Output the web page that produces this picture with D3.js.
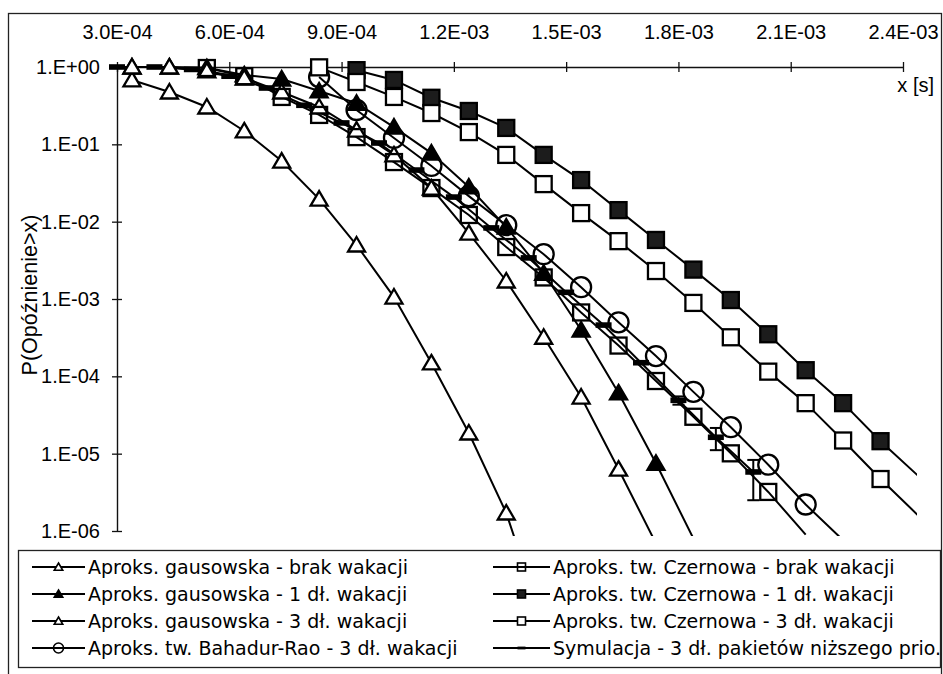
<!DOCTYPE html>
<html><head><meta charset="utf-8">
<script src="https://cdnjs.cloudflare.com/ajax/libs/d3/7.8.5/d3.min.js"></script>
<style>body{margin:0;background:#fff}svg{display:block}</style>
</head><body>
<svg id="chart" width="943" height="674"></svg>
<script>
// ---------- data ----------
const xTickValues = [0.0003, 0.0006, 0.0009, 0.0012, 0.0015, 0.0018, 0.0021, 0.0024];
const xTickLabels = ["3.0E-04","6.0E-04","9.0E-04","1.2E-03","1.5E-03","1.8E-03","2.1E-03","2.4E-03"];
const yTickValues = [1, 1e-1, 1e-2, 1e-3, 1e-4, 1e-5, 1e-6];
const yTickLabels = ["1.E+00","1.E-01","1.E-02","1.E-03","1.E-04","1.E-05","1.E-06"];

// x grid of the approximations
const approxX = [0.00034,0.00044,0.00054,0.00064,0.00074,0.00084,0.00094,0.00104,0.00114,0.00124,0.00134,
                 0.00144,0.00154,0.00164,0.00174,0.00184,0.00194,0.00204,0.00214,0.00224,0.00234,0.00244];
// x grid of the simulation
const simX = [0.0003,0.0004,0.0005,0.0006,0.0007,0.0008,0.0009,0.0010,0.0011,0.0012,0.0013,0.0014,0.0015,
              0.0016,0.0017,0.0018,0.0019,0.0020];

const gaussNone = [0.68,0.475,0.304,0.149,0.0608,0.0196,4.99e-3,1.06e-3,1.49e-4,1.85e-5,1.71e-6,6e-8];
const gaussOne  = [1.0,1.0,0.98,0.79,0.70,0.49,0.34,0.167,0.077,0.0281,8.5e-3,2.15e-3,3.97e-4,6.1e-5,7.5e-6,8e-7];
const gaussThree= [1.0,1.0,0.89,0.72,0.475,0.304,0.153,0.073,0.0272,7.1e-3,1.71e-3,3.2e-4,5.4e-5,6.3e-6,6.9e-7];
const bahadurThreeStart = 5;
const bahadurThree = [0.74,0.278,0.121,0.0525,0.0214,9.0e-3,3.8e-3,1.42e-3,5.0e-4,1.83e-4,6.3e-5,2.2e-5,7.2e-6,2.2e-6,7.6e-7];
const czernNoneStart = 2;
const czernNone = [0.97,0.76,0.41,0.24,0.124,0.059,0.0272,0.0122,4.7e-3,1.9e-3,6.7e-4,2.5e-4,8.7e-5,3.0e-5,1.01e-5,3.2e-6,9e-7];
const czernOneStart = 6;
const czernOne = [0.91,0.68,0.40,0.27,0.163,0.073,0.0345,0.0141,5.8e-3,2.4e-3,9.7e-4,3.5e-4,1.2e-4,4.5e-5,1.45e-5,5.2e-6];
const czernThreeStart = 5;
const czernThree = [0.99,0.64,0.41,0.254,0.144,0.073,0.0306,0.0129,5.6e-3,2.3e-3,8.9e-4,3.2e-4,1.15e-4,4.5e-5,1.48e-5,4.7e-6,1.6e-6];
const simValues = [1,1,0.93,0.76,0.535,0.32,0.189,0.104,0.0465,0.0208,8.3e-3,3.4e-3,1.22e-3,4.6e-4,1.5e-4,4.9e-5,1.63e-5,5.8e-6];
const simErrLow  = [null,null,null,null,null,null,null,null,null,null,null,null,null,null,null,4.3e-5,1.11e-5,2.5e-6];
const simErrHigh = [null,null,null,null,null,null,null,null,null,null,null,null,null,null,null,5.5e-5,2.15e-5,8.3e-6];

const seriesNames = [
  "Aproks. gausowska - brak wakacji",
  "Aproks. gausowska - 1 dł. wakacji",
  "Aproks. gausowska - 3 dł. wakacji",
  "Aproks. tw. Bahadur-Rao - 3 dł. wakacji",
  "Aproks. tw. Czernowa - brak wakacji",
  "Aproks. tw. Czernowa - 1 dł. wakacji",
  "Aproks. tw. Czernowa - 3 dł. wakacji",
  "Symulacja - 3 dł. pakietów niższego prio."
];

function zip(xs, ys, start){ return ys.map((v,i)=>({x: xs[start+i], y: v})); }

const series = [
  {name: seriesNames[0], marker: "triOpen",  pts: zip(approxX, gaussNone, 0)},
  {name: seriesNames[1], marker: "triFill",  pts: zip(approxX, gaussOne, 0)},
  {name: seriesNames[2], marker: "triOpen",  pts: zip(approxX, gaussThree, 0)},
  {name: seriesNames[3], marker: "circle",   pts: zip(approxX, bahadurThree, bahadurThreeStart)},
  {name: seriesNames[4], marker: "sqNone",   pts: zip(approxX, czernNone, czernNoneStart)},
  {name: seriesNames[5], marker: "sqDark",   pts: zip(approxX, czernOne, czernOneStart)},
  {name: seriesNames[6], marker: "sqWhite",  pts: zip(approxX, czernThree, czernThreeStart)},
  {name: seriesNames[7], marker: "dash",     pts: zip(simX, simValues, 0)}
];

// ---------- drawing ----------
const svg = d3.select("#chart");
const axisFont = "'Liberation Sans', Arial, sans-serif";
const legendFont = "'DejaVu Sans', Verdana, sans-serif";

svg.append("rect").attr("x",0).attr("y",0).attr("width",943).attr("height",674).attr("fill","#fff");
// outer chart border
svg.append("rect").attr("x",8.5).attr("y",13.5).attr("width",933).attr("height",665)
  .attr("fill","none").attr("stroke","#222").attr("stroke-width",1.3);

const x = d3.scaleLinear().domain([0.0003, 0.0024]).range([117, 903]);
const y = d3.scaleLog().domain([1, 1e-6]).range([67, 531]);

// x axis (on top, at y = 1)
const xAxis = d3.axisTop(x).tickValues(xTickValues)
  .tickFormat((d,i)=>xTickLabels[i]).tickSizeInner(0).tickSizeOuter(0).tickPadding(28);
const gx = svg.append("g").attr("transform",`translate(0,${y(1)})`).call(xAxis);
gx.select(".domain").attr("stroke","#111").attr("stroke-width",1.4);
gx.selectAll(".tick line").attr("y1",-5).attr("y2",5).attr("stroke","#111").attr("stroke-width",1.3);
gx.selectAll(".tick text").attr("font-family",axisFont).attr("font-size",20).attr("fill","#000");

// y axis
const yAxis = d3.axisLeft(y).tickValues(yTickValues)
  .tickFormat((d,i)=>yTickLabels[i]).tickSizeInner(0).tickSizeOuter(0).tickPadding(17);
const gy = svg.append("g").attr("transform",`translate(${x(0.0003)},0)`).call(yAxis);
gy.select(".domain").attr("stroke","#111").attr("stroke-width",1.4);
gy.selectAll(".tick line").attr("x1",-5).attr("x2",5).attr("stroke","#111").attr("stroke-width",1.3);
gy.selectAll(".tick text").attr("font-family",axisFont).attr("font-size",20).attr("fill","#000");

// axis titles
svg.append("text").attr("x",934).attr("y",92).attr("text-anchor","end")
  .attr("font-family",axisFont).attr("font-size",20).text("x [s]");
svg.append("text").attr("transform","translate(37,295) rotate(-90)").attr("text-anchor","middle")
  .attr("font-family",axisFont).attr("font-size",21.5).text("P(Opóźnienie>x)");

// clip for lines
svg.append("clipPath").attr("id","plotclip").append("rect")
  .attr("x",117).attr("y",60).attr("width",800).attr("height",476);

const line = d3.line().x(d=>x(d.x)).y(d=>y(d.y));

function drawMarker(g, type, s){
  // s = scale factor
  const sw = s < 1 ? 1.6 : 2.3;
  if (type==="triOpen" || type==="triFill"){
    g.append("path").attr("d",`M0,${-8*s} L${8.5*s},${6.5*s} L${-8.5*s},${6.5*s} Z`)
      .attr("fill", type==="triFill" ? "#000" : "#fff").attr("stroke","#000").attr("stroke-width",sw)
      .attr("stroke-linejoin","miter");
  } else if (type==="circle"){
    g.append("circle").attr("r",10*s).attr("fill","none").attr("stroke","#000").attr("stroke-width",sw);
  } else if (type.startsWith("sq")){
    const h = 8*s;
    g.append("rect").attr("x",-h).attr("y",-h).attr("width",2*h).attr("height",2*h)
      .attr("fill", type==="sqDark" ? "#1c1c1c" : (type==="sqWhite" ? "#fff" : "none"))
      .attr("stroke","#000").attr("stroke-width",sw);
  } else if (type==="dash"){
    g.append("rect").attr("x",-8*s).attr("y",-2.8*s).attr("width",16*s).attr("height",5.6*s).attr("fill","#000");
  }
}

const plot = svg.append("g");
series.forEach(s=>{
  plot.append("path").datum(s.pts).attr("d",line).attr("clip-path","url(#plotclip)")
    .attr("fill","none").attr("stroke","#000").attr("stroke-width",2);
});

// error bars of the simulation
simX.forEach((xv,i)=>{
  if (simErrLow[i]==null) return;
  const g = plot.append("g").attr("stroke","#000").attr("stroke-width",2);
  const xp = x(xv), y1 = y(simErrHigh[i]), y2 = y(simErrLow[i]);
  g.append("line").attr("x1",xp).attr("x2",xp).attr("y1",y1).attr("y2",y2);
  g.append("line").attr("x1",xp-6).attr("x2",xp+6).attr("y1",y1).attr("y2",y1);
  g.append("line").attr("x1",xp-6).attr("x2",xp+6).attr("y1",y2).attr("y2",y2);
});

series.forEach(s=>{
  s.pts.filter(d=>d.x<=0.0024+1e-9 && d.y>=1e-6 && d.y<=1).forEach(d=>{
    const g = plot.append("g").attr("transform",`translate(${x(d.x)},${y(d.y)})`);
    drawMarker(g, s.marker, 1);
  });
});

// ---------- legend ----------
svg.append("rect").attr("x",18.5).attr("y",550.5).attr("width",922).attr("height",117)
  .attr("fill","#fff").attr("stroke","#222").attr("stroke-width",1.3);
const legRowY = [567, 594, 621, 648];
const legCols = [{x1:32, x2:85, tx:88}, {x1:493, x2:550, tx:553}];
series.forEach((s,i)=>{
  const col = legCols[Math.floor(i/4)], ry = legRowY[i%4];
  const g = svg.append("g");
  g.append("line").attr("x1",col.x1).attr("x2",col.x2).attr("y1",ry).attr("y2",ry)
    .attr("stroke","#000").attr("stroke-width",2);
  const m = g.append("g").attr("transform",`translate(${(col.x1+col.x2)/2},${ry})`);
  drawMarker(m, s.marker, 0.5);
  g.append("text").attr("x",col.tx).attr("y",ry+7).attr("font-family",legendFont)
    .attr("font-size",19).attr("fill","#000").text(s.name);
});
</script>
</body></html>
